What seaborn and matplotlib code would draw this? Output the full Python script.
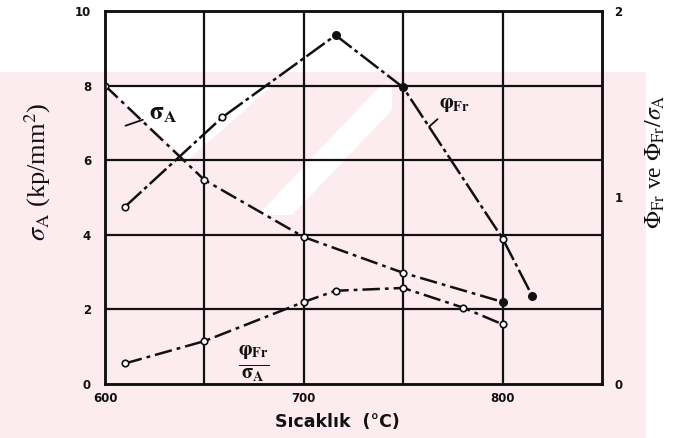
import matplotlib
matplotlib.use("Agg")
import matplotlib.pyplot as plt
from matplotlib.patches import Polygon
import seaborn as sns
import pandas as pd

# ---- data ----
temp_sigma = [600, 650, 700, 750, 800]
sigma_A = [8.0, 5.47, 3.94, 2.98, 2.2]
sigma_filled = [False, False, False, False, True]

temp_phi = [610, 659, 716, 750, 800, 815]
phi_Fr = [0.95, 1.43, 1.87, 1.59, 0.78, 0.47]
phi_filled = [False, False, True, True, False, True]

temp_ratio = [610, 650, 700, 716, 750, 780, 800]
ratio = [0.11, 0.23, 0.44, 0.50, 0.515, 0.41, 0.32]

x_ticks = [600, 700, 800]
left_ticks = [0, 2, 4, 6, 8, 10]
right_ticks = [0, 1, 2]

sns.set_theme(style="white")
plt.rcParams['font.family'] = ['DejaVu Sans']
plt.rcParams['mathtext.fontset'] = 'stix'

W, H = 676, 438
fig = plt.figure(figsize=(W / 100, H / 100), dpi=100)
fig.patch.set_facecolor('white')

# faint watermark of the scanned page (pink band with white diagonal stripes)
pink = '#fdecef'
def px(poly):
    return [(x / W, 1 - y / H) for x, y in poly]
fig.patches.append(Polygon(px([(0, 72), (646, 72), (646, 438), (0, 438)]),
                           closed=True, transform=fig.transFigure,
                           facecolor=pink, edgecolor='none', zorder=-10))
for poly in [
    [(105, 86), (272, 86), (188, 160)],
    [(258, 215), (292, 215), (392, 110), (392, 86), (380, 86)],
]:
    fig.patches.append(Polygon(px(poly), closed=True, transform=fig.transFigure,
                               facecolor='white', edgecolor='none', zorder=-9))

ax = fig.add_axes([105 / W, 1 - 384 / H, (602 - 105) / W, (384 - 11) / H])
ax.set_facecolor('none')
ax2 = ax.twinx()

ink = '#111111'
dash = (7, 2, 1.5, 2)

df_s = pd.DataFrame({'T': temp_sigma, 'v': sigma_A, 'f': sigma_filled})
df_p = pd.DataFrame({'T': temp_phi, 'v': phi_Fr, 'f': phi_filled})
df_r = pd.DataFrame({'T': temp_ratio, 'v': ratio})

sns.lineplot(data=df_s, x='T', y='v', ax=ax, color=ink, lw=1.8,
             linestyle=(0, dash), zorder=3)
sns.lineplot(data=df_p, x='T', y='v', ax=ax2, color=ink, lw=1.8,
             linestyle=(0, (9, 1.5, 1.5, 1.5)), zorder=3)
sns.lineplot(data=df_r, x='T', y='v', ax=ax2, color=ink, lw=1.8,
             linestyle=(0, dash), zorder=3)

def pts(df, axis, filled_col=None):
    if filled_col is None:
        open_df, fill_df = df, df.iloc[0:0]
    else:
        open_df, fill_df = df[~df[filled_col]], df[df[filled_col]]
    sns.scatterplot(data=open_df, x='T', y='v', ax=axis, s=22, facecolor='white',
                    edgecolor=ink, linewidth=1.2, zorder=5)
    if len(fill_df):
        sns.scatterplot(data=fill_df, x='T', y='v', ax=axis, s=30, color=ink,
                        edgecolor=ink, linewidth=1.0, zorder=5)

pts(df_s, ax, 'f')
pts(df_p, ax2, 'f')
pts(df_r, ax2)

ax.set_xlim(600, 850)
ax.set_ylim(0, 10)
ax2.set_ylim(0, 2)

ax.set_xticks(x_ticks)
ax.set_xticklabels([str(t) for t in x_ticks])
ax.set_yticks(left_ticks)
ax.set_yticklabels([str(t) for t in left_ticks])
ax2.set_yticks(right_ticks)
ax2.set_yticklabels([str(t) for t in right_ticks])

# grid
for gx in [650, 700, 750, 800]:
    ax.axvline(gx, color=ink, lw=1.6, zorder=2)
for gy in [2, 4, 6, 8]:
    ax.axhline(gy, color=ink, lw=1.6, zorder=2)

for a in (ax, ax2):
    for s in a.spines.values():
        s.set_color(ink)
        s.set_linewidth(1.8)
    a.tick_params(length=0, labelsize=8.5, colors=ink)
for lab in ax.get_xticklabels() + ax.get_yticklabels() + ax2.get_yticklabels():
    lab.set_fontweight('bold')
ax.tick_params(axis='y', pad=10)
ax.tick_params(axis='x', pad=6)
ax2.tick_params(axis='y', pad=9)
ax2.grid(False)

ax.set_xlabel('')
ax.set_ylabel('')
ax2.set_ylabel('')

# axis titles
fig.text(38 / W, 1 - 172 / H, r'$\sigma_{\mathrm{A}}$ (kp/mm$^2$)', rotation=90,
         ha='center', va='center', fontsize=19, family='Liberation Serif', color=ink)
fig.text(655 / W, 1 - 162 / H, r'$\Phi_{\mathrm{Fr}}$ ve $\Phi_{\mathrm{Fr}}/\sigma_{\mathrm{A}}$',
         rotation=90, ha='center', va='center', fontsize=17, family='Liberation Serif', color=ink)
fig.text(337 / W, 1 - 422 / H, 'Sıcaklık  (°C)', ha='center', va='center',
         fontsize=12.5, fontweight='bold', color=ink)

# curve labels
ax.annotate(r'$\mathbf{\sigma_{A}}$', xy=(609, 6.9), xytext=(622, 7.1),
            fontsize=18, color=ink,
            arrowprops=dict(arrowstyle='-', color=ink, lw=1.3))
ax2.annotate(r'$\mathbf{\varphi_{Fr}}$', xy=(762, 1.37), xytext=(768, 1.48),
             fontsize=15, color=ink,
             arrowprops=dict(arrowstyle='-', color=ink, lw=1.3))
ax.text(675, 0.55, r'$\mathbf{\frac{\varphi_{Fr}}{\sigma_{A}}}$', fontsize=21,
        ha='center', va='center', color=ink)

fig.savefig('out.png', dpi=100)
